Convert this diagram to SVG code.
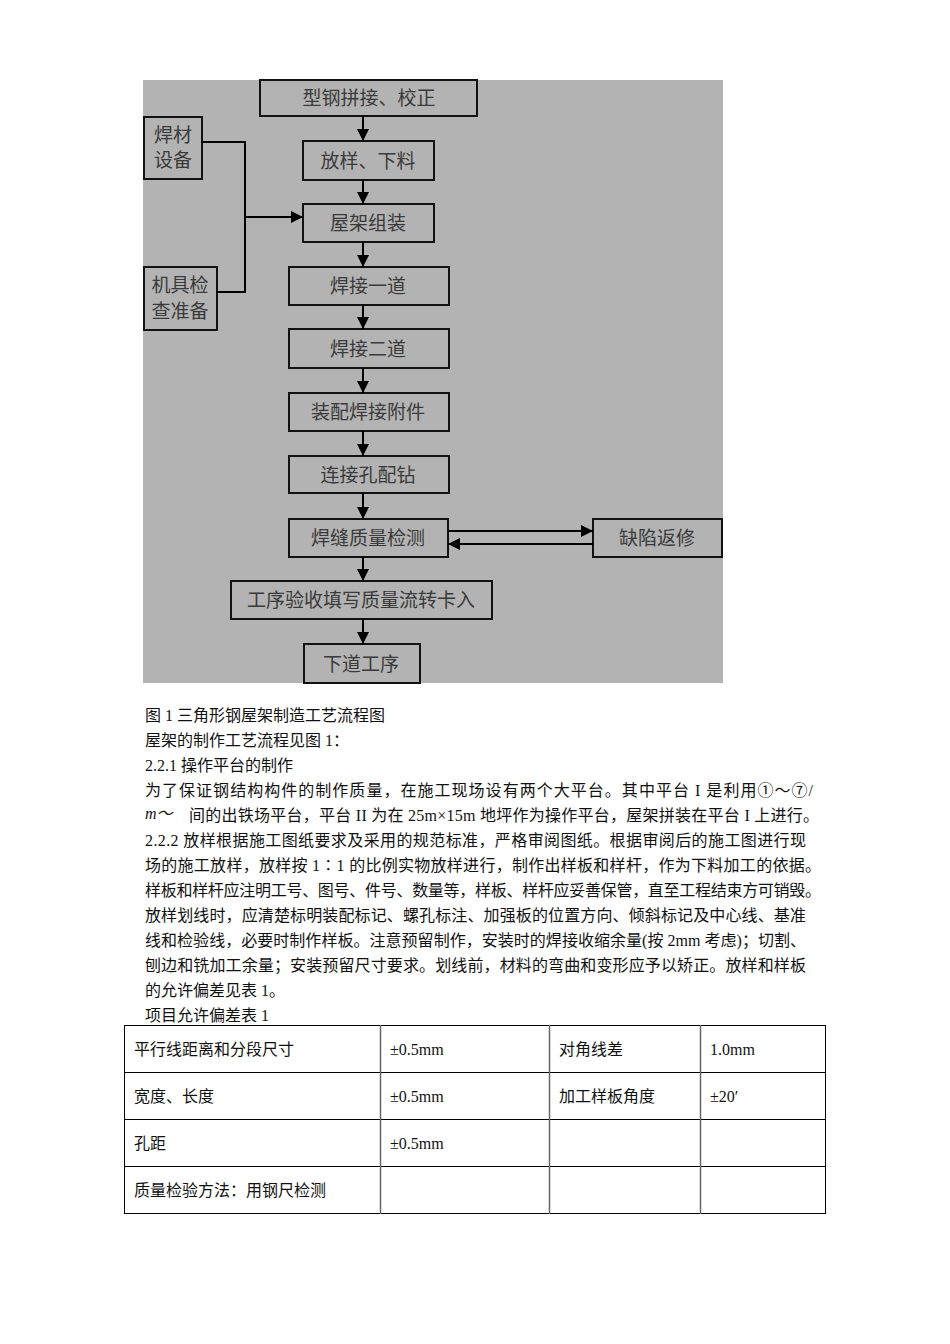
<svg xmlns="http://www.w3.org/2000/svg" width="950" height="1344" viewBox="0 0 950 1344">
<defs>
<marker id="ah" markerWidth="12" markerHeight="12" refX="12" refY="6" orient="auto" markerUnits="userSpaceOnUse"><path d="M0,0 L12,6 L0,12 z" fill="#000"/></marker>
<style>
.box{fill:#b3b3b3;stroke:#111;stroke-width:2}
.ft{font-family:"Noto Sans CJK SC","Noto Sans",sans-serif;font-size:19px;fill:#3a3a3a;text-anchor:middle}
.con{fill:none;stroke:#000;stroke-width:2}
.body{font-family:"Liberation Serif","Noto Sans CJK SC",serif;font-size:16px;fill:#111}
.grid{stroke:#000;stroke-width:1;fill:none}
.vgrid{stroke:#666;stroke-width:1.5}
</style>
</defs>
<rect x="0" y="0" width="950" height="1344" fill="#fff"/>
<rect x="143" y="80" width="580" height="603" fill="#b3b3b3"/>

<g id="n1"><rect class="box" x="260" y="80" width="217" height="36"/><text class="ft" x="369" y="105">型钢拼接、校正</text></g>
<g id="n2"><rect class="box" x="303" y="141" width="131" height="39"/><text class="ft" x="368" y="168">放样、下料</text></g>
<g id="n3"><rect class="box" x="303" y="204" width="131" height="38"/><text class="ft" x="368" y="230">屋架组装</text></g>
<g id="n4"><rect class="box" x="289" y="267" width="160" height="38"/><text class="ft" x="368" y="293">焊接一道</text></g>
<g id="n5"><rect class="box" x="289" y="329" width="160" height="39"/><text class="ft" x="368" y="356">焊接二道</text></g>
<g id="n6"><rect class="box" x="289" y="393" width="160" height="38"/><text class="ft" x="368" y="419">装配焊接附件</text></g>
<g id="n7"><rect class="box" x="289" y="456" width="160" height="37"/><text class="ft" x="368" y="482">连接孔配钻</text></g>
<g id="n8"><rect class="box" x="289" y="519" width="159" height="38"/><text class="ft" x="368" y="545">焊缝质量检测</text></g>
<g id="n9"><rect class="box" x="593" y="519" width="129" height="38"/><text class="ft" x="657" y="545">缺陷返修</text></g>
<g id="n10"><rect class="box" x="231" y="581" width="261" height="38"/><text class="ft" x="361" y="607">工序验收填写质量流转卡入</text></g>
<g id="n11"><rect class="box" x="304" y="644" width="116" height="39"/><text class="ft" x="361" y="671">下道工序</text></g>
<g id="n12"><rect class="box" x="144" y="117" width="58" height="62"/><text class="ft" x="173" y="142">焊材</text><text class="ft" x="173" y="167">设备</text></g>
<g id="n13"><rect class="box" x="144" y="267" width="73" height="63"/><text class="ft" x="180" y="292">机具检</text><text class="ft" x="180" y="318">查准备</text></g>

<g id="connectors">
<line class="con" x1="363" y1="116" x2="363" y2="141" marker-end="url(#ah)"/>
<line class="con" x1="363" y1="180" x2="363" y2="204" marker-end="url(#ah)"/>
<line class="con" x1="363" y1="242" x2="363" y2="267" marker-end="url(#ah)"/>
<line class="con" x1="363" y1="305" x2="363" y2="329" marker-end="url(#ah)"/>
<line class="con" x1="363" y1="368" x2="363" y2="393" marker-end="url(#ah)"/>
<line class="con" x1="363" y1="431" x2="363" y2="456" marker-end="url(#ah)"/>
<line class="con" x1="363" y1="493" x2="363" y2="519" marker-end="url(#ah)"/>
<line class="con" x1="363" y1="557" x2="363" y2="581" marker-end="url(#ah)"/>
<line class="con" x1="363" y1="619" x2="363" y2="644" marker-end="url(#ah)"/>
<polyline class="con" points="202,142 245,142 245,292 217,292"/>
<line class="con" x1="245" y1="217" x2="303" y2="217" marker-end="url(#ah)"/>
<line class="con" x1="448" y1="531" x2="593" y2="531" marker-end="url(#ah)"/>
<line class="con" x1="593" y1="544" x2="448" y2="544" marker-end="url(#ah)"/>
</g>

<g id="text">
<text class="body" x="145" y="721">图 1 三角形钢屋架制造工艺流程图</text>
<text class="body" x="145" y="746">屋架的制作工艺流程见图 1：</text>
<text class="body" x="145" y="771">2.2.1 操作平台的制作</text>
<text class="body" x="145" y="796" textLength="668" lengthAdjust="spacing">为了保证钢结构构件的制作质量，在施工现场设有两个大平台。其中平台 I 是利用①～⑦/</text>
<text class="body" x="145" y="819" font-size="11" font-style="italic">m～</text>
<text class="body" x="189" y="821" textLength="630" lengthAdjust="spacing">间的出铁场平台，平台 II 为在 25m×15m 地坪作为操作平台，屋架拼装在平台 I 上进行。</text>
<text class="body" x="145" y="846" textLength="661" lengthAdjust="spacing">2.2.2 放样根据施工图纸要求及采用的规范标准，严格审阅图纸。根据审阅后的施工图进行现</text>
<text class="body" x="145" y="871" textLength="676" lengthAdjust="spacing">场的施工放样，放样按 1∶1 的比例实物放样进行，制作出样板和样杆，作为下料加工的依据。</text>
<text class="body" x="145" y="896" textLength="676" lengthAdjust="spacing">样板和样杆应注明工号、图号、件号、数量等，样板、样杆应妥善保管，直至工程结束方可销毁。</text>
<text class="body" x="145" y="921" textLength="661" lengthAdjust="spacing">放样划线时，应清楚标明装配标记、螺孔标注、加强板的位置方向、倾斜标记及中心线、基准</text>
<text class="body" x="145" y="946" textLength="661" lengthAdjust="spacing">线和检验线，必要时制作样板。注意预留制作，安装时的焊接收缩余量(按 2mm 考虑)；切割、</text>
<text class="body" x="145" y="971" textLength="661" lengthAdjust="spacing">刨边和铣加工余量；安装预留尺寸要求。划线前，材料的弯曲和变形应予以矫正。放样和样板</text>
<text class="body" x="145" y="996">的允许偏差见表 1。</text>
<text class="body" x="145" y="1021">项目允许偏差表 1</text>
</g>

<g id="table">
<rect class="grid" x="124.5" y="1025.5" width="701" height="188"/>
<line class="grid" x1="124" y1="1072.5" x2="826" y2="1072.5"/>
<line class="grid" x1="124" y1="1119.5" x2="826" y2="1119.5"/>
<line class="grid" x1="124" y1="1166.5" x2="826" y2="1166.5"/>
<line class="vgrid" x1="380.5" y1="1025" x2="380.5" y2="1214"/>
<line class="vgrid" x1="549.5" y1="1025" x2="549.5" y2="1214"/>
<line class="vgrid" x1="700.5" y1="1025" x2="700.5" y2="1214"/>
<text class="body" x="134" y="1055">平行线距离和分段尺寸</text>
<text class="body" x="390" y="1055">±0.5mm</text>
<text class="body" x="559" y="1055">对角线差</text>
<text class="body" x="710" y="1055">1.0mm</text>
<text class="body" x="134" y="1102">宽度、长度</text>
<text class="body" x="390" y="1102">±0.5mm</text>
<text class="body" x="559" y="1102">加工样板角度</text>
<text class="body" x="710" y="1102">±20′</text>
<text class="body" x="134" y="1149">孔距</text>
<text class="body" x="390" y="1149">±0.5mm</text>
<text class="body" x="134" y="1196">质量检验方法：用钢尺检测</text>
</g>
</svg>
